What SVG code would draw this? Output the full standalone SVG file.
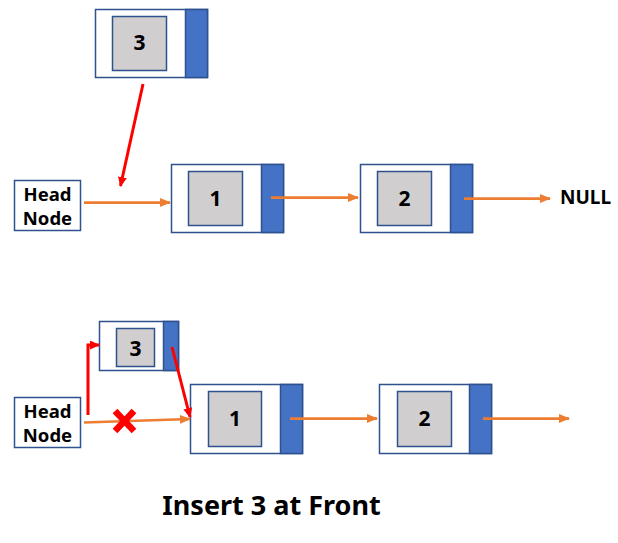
<svg xmlns="http://www.w3.org/2000/svg" width="618" height="543" viewBox="0 0 618 543">
<defs>
<style>
.outer{fill:#fff;stroke:#2F528F;stroke-width:1.5}
.ptr{fill:#4472C4;stroke:#2F528F;stroke-width:1.5}
.data{fill:#D0CECE;stroke:#2F528F;stroke-width:1.5}
.hd{fill:#fff;stroke:#2F528F;stroke-width:1.5}
.t{font-family:"Noto Sans","Open Sans",sans-serif;font-weight:bold;fill:#000;text-anchor:middle}
.or{stroke:#ED7D31;stroke-width:2.75;fill:none}
.rd{stroke:#FF0000;stroke-width:3;fill:none}
</style>
<marker id="ao" markerWidth="11" markerHeight="9" refX="10" refY="4.5" orient="auto" markerUnits="userSpaceOnUse"><path d="M0,0 L11,4.5 L0,9 Z" fill="#ED7D31"/></marker>
<marker id="ar" markerWidth="10" markerHeight="9" refX="9" refY="4.5" orient="auto" markerUnits="userSpaceOnUse"><path d="M0,0 L10,4.5 L0,9 Z" fill="#FF0000"/></marker>
</defs>
<rect width="618" height="543" fill="#fff"/>
<g id="new3-top">
<rect class="outer" x="95.5" y="9.5" width="112" height="68"/>
<rect class="ptr" x="185.5" y="9.5" width="22" height="68"/>
<rect class="data" x="112.5" y="16.5" width="54" height="54"/>
<text class="t" x="139.5" y="50" font-size="21">3</text>
</g>
<g id="head-top">
<rect class="hd" x="14.5" y="180.5" width="66" height="50"/>
<text class="t" x="47.5" y="201" font-size="18.5">Head</text>
<text class="t" x="47.5" y="224.5" font-size="18.5">Node</text>
</g>
<g id="n1-top">
<rect class="outer" x="171.5" y="164.5" width="112" height="68"/>
<rect class="ptr" x="261.5" y="164.5" width="22" height="68"/>
<rect class="data" x="188.5" y="171.5" width="54" height="54"/>
<text class="t" x="215.5" y="206" font-size="21">1</text>
</g>
<g id="n2-top">
<rect class="outer" x="360.5" y="164.5" width="112" height="68"/>
<rect class="ptr" x="450.5" y="164.5" width="22" height="68"/>
<rect class="data" x="377.5" y="171.5" width="54" height="54"/>
<text class="t" x="404.5" y="206" font-size="21">2</text>
</g>
<g id="null">
<text class="t" x="585.5" y="204" font-size="19">NULL</text>
</g>
<g id="new3-bottom">
<rect class="outer" x="99.5" y="321.5" width="79" height="49"/>
<rect class="ptr" x="163.5" y="321.5" width="15" height="49"/>
<rect class="data" x="116.5" y="328.5" width="38" height="38"/>
<text class="t" x="135.5" y="356" font-size="21">3</text>
</g>
<g id="head-bottom">
<rect class="hd" x="14.5" y="397.5" width="66" height="50"/>
<text class="t" x="47.5" y="418" font-size="18.5">Head</text>
<text class="t" x="47.5" y="441.5" font-size="18.5">Node</text>
</g>
<g id="n1-bottom">
<rect class="outer" x="190.5" y="384.5" width="112" height="69"/>
<rect class="ptr" x="280.5" y="384.5" width="22" height="69"/>
<rect class="data" x="208.5" y="391.5" width="53" height="55"/>
<text class="t" x="235" y="426" font-size="21">1</text>
</g>
<g id="n2-bottom">
<rect class="outer" x="379.5" y="384.5" width="112" height="69"/>
<rect class="ptr" x="469.5" y="384.5" width="22" height="69"/>
<rect class="data" x="397.5" y="391.5" width="54" height="55"/>
<text class="t" x="424.5" y="426" font-size="21">2</text>
</g>
<g id="connectors">
<line class="rd" x1="143" y1="84" x2="120.5" y2="186" marker-end="url(#ar)"/>
<line class="or" x1="84" y1="202.5" x2="170" y2="202.5" marker-end="url(#ao)"/>
<line class="or" x1="271" y1="197.5" x2="358" y2="197.5" marker-end="url(#ao)"/>
<line class="or" x1="464" y1="198.5" x2="550" y2="198.5" marker-end="url(#ao)"/>
<polyline class="rd" points="88,415 88,345 99,345" marker-end="url(#ar)"/>
<line class="rd" x1="172" y1="347" x2="190" y2="417" marker-end="url(#ar)"/>
<line class="or" x1="84" y1="422.5" x2="190" y2="419" marker-end="url(#ao)"/>
<line class="or" x1="290" y1="418.5" x2="377" y2="418.5" marker-end="url(#ao)"/>
<line class="or" x1="483" y1="418.5" x2="569" y2="418.5" marker-end="url(#ao)"/>
<g stroke="#FF0000" stroke-width="6.5">
<line x1="115" y1="411" x2="134" y2="431"/>
<line x1="134" y1="411" x2="115" y2="431"/>
</g>
</g>
<g id="title">
<text class="t" x="271.5" y="515" font-size="27">Insert 3 at Front</text>
</g>
</svg>
